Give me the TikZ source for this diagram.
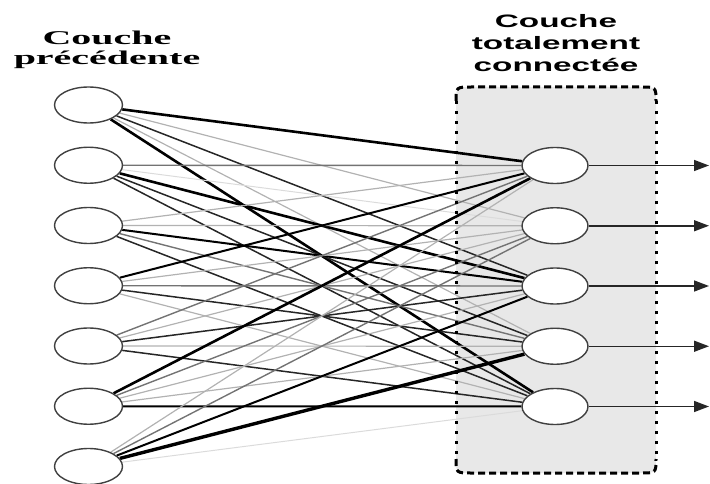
\documentclass[tikz,border=0pt]{standalone}
\usepackage{fontspec}
\newfontfamily\titleserif{Liberation Serif}
\newfontfamily\titlesans{Liberation Sans}
\usetikzlibrary{shapes.geometric,arrows.meta}
\pgfdeclarelayer{boxbg}
\pgfdeclarelayer{edgelayer}
\pgfsetlayers{boxbg,edgelayer,main}
\definecolor{boxgray}{HTML}{E8E8E8}
\tikzset{
  inn/.style={ellipse,draw=black!75,line width=1.4pt,fill=white,minimum width=68pt,minimum height=36pt,inner sep=0pt},
  outn/.style={inn,minimum width=66pt},
  outarrow/.style={draw=black!85,line width=1.5pt,-{Triangle[length=15pt,width=11pt]}},
  lefttitle/.style={font=\titleserif\bfseries\fontsize{19.5}{20}\selectfont,align=center,inner sep=0pt,anchor=north,xscale=2.05,transform shape},
  righttitle/.style={font=\titlesans\bfseries\fontsize{18}{22}\selectfont,align=center,inner sep=0pt,anchor=north,xscale=1.85,transform shape},
  e0/.style={draw=black!14,line width=1pt},
  e1/.style={draw=black!30,line width=1.2pt},
  e2/.style={draw=black!55,line width=1.4pt},
  e3/.style={draw=black!85,line width=1.5pt},
  e4/.style={draw=black,line width=2pt},
  e5/.style={draw=black,line width=2.6pt},
  e6/.style={draw=black,line width=3.4pt},
  hborder/.style={draw=black,line width=3pt,dash pattern=on 7pt off 4pt},
  vborder/.style={draw=black,line width=3pt,dash pattern=on 3pt off 7pt},
}
\begin{document}
\begin{tikzpicture}[x=1pt,y=-1pt]
\useasboundingbox (0,0) rectangle (710,484);
% box background
\begin{pgfonlayer}{boxbg}
\fill[boxgray] (456,101) .. controls (456,87) .. (472,87) -- (640,87) .. controls (656,87) .. (656,101)
  -- (656,459) .. controls (656,473) .. (640,473) -- (472,473) .. controls (456,473) .. (456,459) -- cycle;
\end{pgfonlayer}
% titles
\node[lefttitle] (tl) at (107,31) {Couche\\précédente};
\node[righttitle] (tr) at (556,14.5) {Couche\\totalement\\connectée};
% nodes
\foreach \i in {1,...,7} \node[inn] (l\i) at (88.5,{105+60.25*(\i-1)}) {};
\foreach \j in {1,...,5} {
  \node[outn] (r\j) at (555,{165.5+60.25*(\j-1)}) {};
  \coordinate (a\j) at (709,{165.5+60.25*(\j-1)});
  \draw[outarrow] (r\j) -- (a\j);
}
% connections
\begin{pgfonlayer}{edgelayer}
\foreach \i/\j/\s in {
  1/1/e5, 1/2/e1, 1/3/e3, 1/4/e1, 1/5/e5,
  2/1/e2, 2/2/e0, 2/3/e5, 2/4/e3, 2/5/e3,
  3/1/e1, 3/2/e1, 3/3/e4, 3/4/e2, 3/5/e3,
  4/1/e4, 4/2/e1, 4/3/e2, 4/4/e3, 4/5/e1,
  5/1/e2, 5/2/e1, 5/3/e3, 5/4/e1, 5/5/e3,
  6/1/e5, 6/2/e2, 6/3/e1, 6/4/e1, 6/5/e4,
  7/1/e1, 7/2/e2, 7/3/e4, 7/4/e6, 7/5/e0}
  \draw[\s] (l\i) -- (r\j);
\end{pgfonlayer}
% dotted border
\draw[hborder] (456,101) .. controls (456,87) .. (472,87) -- (640,87) .. controls (656,87) .. (656,101);
\draw[hborder] (456,459) .. controls (456,473) .. (472,473) -- (640,473) .. controls (656,473) .. (656,459);
\draw[vborder] (456,101) -- (456,459);
\draw[vborder] (656,101) -- (656,459);
\end{tikzpicture}
\end{document}
